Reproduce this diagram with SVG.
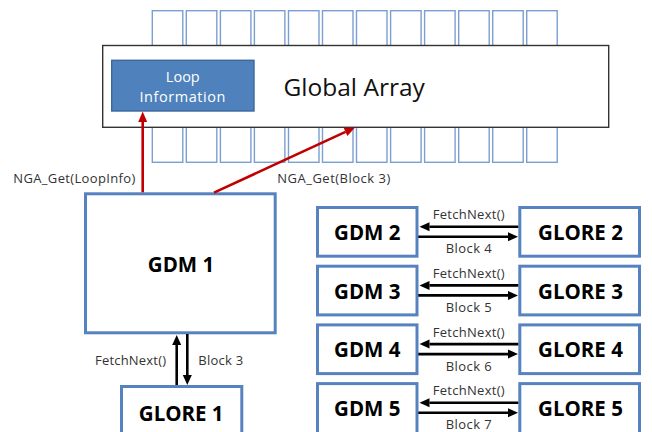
<svg xmlns="http://www.w3.org/2000/svg" width="652" height="432" viewBox="0 0 652 432">
  <style>
    .cell { fill: #ffffff; stroke: #7c9fd2; stroke-width: 1.4; }
    .array { fill: #ffffff; stroke: #333333; stroke-width: 1.4; }
    .loop { fill: #4f81bd; stroke: #3c679f; stroke-width: 1.4; }
    .node { fill: #ffffff; stroke: #5683c0; stroke-width: 3; }
    .big { font-family: "Open Sans", "Noto Sans", sans-serif; font-weight: bold; font-size: 20.5px; fill: #000000; text-anchor: middle; }
    .small { font-family: "Open Sans", "Noto Sans", sans-serif; font-size: 13px; fill: #333333; }
    .title { font-family: "Open Sans", "Noto Sans", sans-serif; font-size: 24.5px; fill: #111111; }
    .white { font-family: "Open Sans", "Noto Sans", sans-serif; font-size: 14.5px; fill: #ffffff; text-anchor: middle; }
    .red { stroke: #c00000; stroke-width: 2.6; fill: none; marker-end: url(#redHead); }
    .blk { stroke: #000000; stroke-width: 2.6; fill: none; marker-end: url(#blackHead); }
  </style>
  <defs>
    <marker id="redHead" markerUnits="userSpaceOnUse" markerWidth="11" markerHeight="10" refX="0" refY="5" orient="auto" overflow="visible">
      <path d="M0,0.5 L10.5,5 L0,9.5 Z" fill="#c00000"/>
    </marker>
    <marker id="blackHead" markerUnits="userSpaceOnUse" markerWidth="11" markerHeight="10" refX="0" refY="5" orient="auto" overflow="visible">
      <path d="M0,0.5 L10,5 L0,9.5 Z" fill="#000000"/>
    </marker>
  </defs>

  <!-- memory cells of the distributed array -->
  <g id="cells">
    <rect class="cell" x="152.3" y="10.7" width="30.5" height="151.6"/>
    <rect class="cell" x="186.3" y="10.7" width="30.5" height="151.6"/>
    <rect class="cell" x="220.4" y="10.7" width="30.5" height="151.6"/>
    <rect class="cell" x="254.4" y="10.7" width="30.5" height="151.6"/>
    <rect class="cell" x="288.5" y="10.7" width="30.5" height="151.6"/>
    <rect class="cell" x="322.5" y="10.7" width="30.5" height="151.6"/>
    <rect class="cell" x="356.5" y="10.7" width="30.5" height="151.6"/>
    <rect class="cell" x="390.6" y="10.7" width="30.5" height="151.6"/>
    <rect class="cell" x="424.6" y="10.7" width="30.5" height="151.6"/>
    <rect class="cell" x="458.7" y="10.7" width="30.5" height="151.6"/>
    <rect class="cell" x="492.7" y="10.7" width="30.5" height="151.6"/>
    <rect class="cell" x="526.7" y="10.7" width="30.5" height="151.6"/>
  </g>

  <g id="global-array">
    <rect class="array" x="102.7" y="45.5" width="506" height="81.8"/>
    <text class="title" x="283.5" y="96">Global Array</text>
  </g>

  <g id="loop-info">
    <rect class="loop" x="111.7" y="60.3" width="142.3" height="50.7"/>
    <text class="white" x="182.8" y="82.3">Loop</text>
    <text class="white" x="182.4" y="102" textLength="86" lengthAdjust="spacing">Information</text>
  </g>

  <g id="gdm1">
    <rect class="node" x="85.5" y="193.8" width="189.7" height="139"/>
    <text class="big" x="181" y="271.7">GDM 1</text>
  </g>

  <g id="glore1">
    <rect class="node" x="121.5" y="386.5" width="120.3" height="60"/>
    <text class="big" x="181.2" y="420.7">GLORE 1</text>
  </g>

  <g id="gdm2"><rect class="node" x="317.5" y="207.5" width="99.5" height="48.7"/><text class="big" x="367.3" y="240">GDM 2</text></g>
  <g id="glore2"><rect class="node" x="519.8" y="207.5" width="119.7" height="48.7"/><text class="big" x="580.5" y="240">GLORE 2</text></g>
  <g id="gdm3"><rect class="node" x="317.5" y="266.2" width="99.5" height="48.7"/><text class="big" x="367.3" y="298.7">GDM 3</text></g>
  <g id="glore3"><rect class="node" x="519.8" y="266.2" width="119.7" height="48.7"/><text class="big" x="580.5" y="298.7">GLORE 3</text></g>
  <g id="gdm4"><rect class="node" x="317.5" y="324.9" width="99.5" height="48.7"/><text class="big" x="367.3" y="357.4">GDM 4</text></g>
  <g id="glore4"><rect class="node" x="519.8" y="324.9" width="119.7" height="48.7"/><text class="big" x="580.5" y="357.4">GLORE 4</text></g>
  <g id="gdm5"><rect class="node" x="317.5" y="383.6" width="99.5" height="60"/><text class="big" x="367.3" y="416.1">GDM 5</text></g>
  <g id="glore5"><rect class="node" x="519.8" y="383.6" width="119.7" height="60"/><text class="big" x="580.5" y="416.1">GLORE 5</text></g>

  <g id="connectors">
    <!-- NGA_Get calls from GDM 1 into the global array -->
    <line class="red" x1="142.7" y1="192.3" x2="142.7" y2="122"/>
    <line class="red" x1="214" y1="192.6" x2="345.5" y2="131.9"/>
    <text class="small" x="13.3" y="183.3" textLength="122" lengthAdjust="spacing">NGA_Get(LoopInfo)</text>
    <text class="small" x="277.3" y="183.3" textLength="113" lengthAdjust="spacing">NGA_Get(Block  3)</text>

    <!-- GDM 1 / GLORE 1 -->
    <line class="blk" x1="176.7" y1="385" x2="176.7" y2="345"/>
    <line class="blk" x1="187.3" y1="334" x2="187.3" y2="375"/>
    <text class="small" x="95" y="365" textLength="71" lengthAdjust="spacing">FetchNext()</text>
    <text class="small" x="198.3" y="365" textLength="45" lengthAdjust="spacing">Block  3</text>

    <!-- GDM n / GLORE n pairs -->
    <line class="blk" x1="518.3" y1="226.7" x2="429.5" y2="226.7"/>
    <line class="blk" x1="418.3" y1="236.7" x2="508" y2="236.7"/>
    <text class="small" x="432.7" y="219.3" textLength="72" lengthAdjust="spacing">FetchNext()</text>
    <text class="small" x="445.7" y="253.3" textLength="46" lengthAdjust="spacing">Block 4</text>

    <line class="blk" x1="518.3" y1="285.4" x2="429.5" y2="285.4"/>
    <line class="blk" x1="418.3" y1="295.4" x2="508" y2="295.4"/>
    <text class="small" x="432.7" y="278" textLength="72" lengthAdjust="spacing">FetchNext()</text>
    <text class="small" x="445.7" y="312" textLength="46" lengthAdjust="spacing">Block 5</text>

    <line class="blk" x1="518.3" y1="344.1" x2="429.5" y2="344.1"/>
    <line class="blk" x1="418.3" y1="354.1" x2="508" y2="354.1"/>
    <text class="small" x="432.7" y="336.7" textLength="72" lengthAdjust="spacing">FetchNext()</text>
    <text class="small" x="445.7" y="370.7" textLength="46" lengthAdjust="spacing">Block 6</text>

    <line class="blk" x1="518.3" y1="402.8" x2="429.5" y2="402.8"/>
    <line class="blk" x1="418.3" y1="412.8" x2="508" y2="412.8"/>
    <text class="small" x="432.7" y="395.4" textLength="72" lengthAdjust="spacing">FetchNext()</text>
    <text class="small" x="445.7" y="429.4" textLength="46" lengthAdjust="spacing">Block 7</text>
  </g>
</svg>
